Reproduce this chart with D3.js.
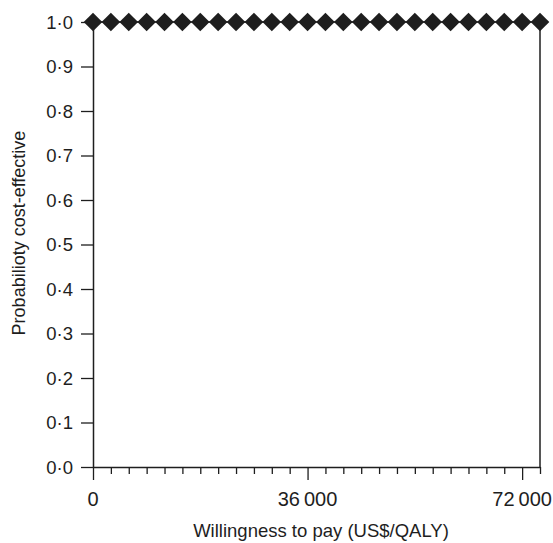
<!DOCTYPE html>
<html>
<head>
<meta charset="utf-8">
<script src="https://cdn.jsdelivr.net/npm/d3@7"></script>
<style>
  html, body { margin: 0; padding: 0; background: #fff; }
  svg { display: block; font-family: "Liberation Sans", Arial, Helvetica, sans-serif; }
</style>
</head>
<body>
<svg id="chart" width="553" height="543"></svg>
<script>
// Data
const wtp = [0, 3000, 6000, 9000, 12000, 15000, 18000, 21000, 24000, 27000, 30000, 33000, 36000,
             39000, 42000, 45000, 48000, 51000, 54000, 57000, 60000, 63000, 66000, 69000, 72000, 75000];
const probability = [1.0, 1.0, 1.0, 1.0, 1.0, 1.0, 1.0, 1.0, 1.0, 1.0, 1.0, 1.0, 1.0,
                     1.0, 1.0, 1.0, 1.0, 1.0, 1.0, 1.0, 1.0, 1.0, 1.0, 1.0, 1.0, 1.0];
const xTickValues = [0, 3000, 6000, 9000, 12000, 15000, 18000, 21000, 24000, 27000, 30000, 33000, 36000,
                     39000, 42000, 45000, 48000, 51000, 54000, 57000, 60000, 63000, 66000, 69000, 72000, 75000];
const xMajorTicks = [0, 36000, 72000];
const xMajorLabels = ["0", "36\u2009000", "72\u2009000"];
const yTickValues = [0, 0.1, 0.2, 0.3, 0.4, 0.5, 0.6, 0.7, 0.8, 0.9, 1.0];
const yTickLabels = ["0·0", "0·1", "0·2", "0·3", "0·4", "0·5", "0·6", "0·7", "0·8", "0·9", "1·0"];
const xTitle = "Willingness to pay (US$/QALY)";
const yTitle = "Probabilioty cost-effective";

(function () {
const svg = d3.select("#chart");
const mLeft = 93, mRight = 540, mTop = 22, mBottom = 467;
const ink = "#1e1e1e";

const x = d3.scaleLinear().domain([0, 75000]).range([mLeft, mRight]);
const y = d3.scaleLinear().domain([0, 1]).range([mBottom, mTop]);

// X axis
const xAxis = d3.axisBottom(x)
  .tickValues(xTickValues)
  .tickSize(7)
  .tickSizeOuter(0)
  .tickFormat("");
const gx = svg.append("g").attr("transform", `translate(0,${mBottom})`).call(xAxis);
gx.select(".domain").attr("stroke", ink).attr("stroke-width", 1.5);
gx.selectAll(".tick line").attr("stroke", ink).attr("stroke-width", 1.3)
  .attr("y2", d => xMajorTicks.includes(d) ? 13 : 7);

// X major labels
svg.append("g").selectAll("text").data(xMajorTicks).join("text")
  .attr("x", d => x(d))
  .attr("y", 506)
  .attr("text-anchor", "middle")
  .attr("font-size", 20)
  .attr("fill", ink)
  .text((d, i) => xMajorLabels[i]);

// Y axis
const yAxis = d3.axisLeft(y)
  .tickValues(yTickValues)
  .tickSize(12)
  .tickSizeOuter(0)
  .tickFormat((d, i) => yTickLabels[i]);
const gy = svg.append("g").attr("transform", `translate(${mLeft},0)`).call(yAxis);
gy.select(".domain").attr("stroke", ink).attr("stroke-width", 1.5);
gy.selectAll(".tick line").attr("stroke", ink).attr("stroke-width", 1.3);
gy.selectAll(".tick text")
  .attr("font-size", 18.5)
  .attr("font-family", "'Liberation Sans', Arial, sans-serif")
  .attr("fill", ink)
  .attr("x", -20)
  .attr("dy", "0.35em");

// Right frame line
svg.append("line")
  .attr("x1", x(75000)).attr("x2", x(75000))
  .attr("y1", y(1)).attr("y2", y(0))
  .attr("stroke", ink).attr("stroke-width", 1.5);

// Line + diamond markers
const line = d3.line().x((d, i) => x(wtp[i])).y(d => y(d));
svg.append("path").datum(probability)
  .attr("d", line).attr("fill", "none").attr("stroke", ink).attr("stroke-width", 1.5);

const r = 9.3;
svg.append("g").selectAll("path").data(probability).join("path")
  .attr("transform", (d, i) => `translate(${x(wtp[i])},${y(d)})`)
  .attr("d", `M0,${-r}L${r},0L0,${r}L${-r},0Z`)
  .attr("fill", ink);

// Titles
svg.append("text")
  .attr("x", 321)
  .attr("y", 537)
  .attr("text-anchor", "middle")
  .attr("font-size", 18.5)
  .attr("fill", ink)
  .text(xTitle);

svg.append("text")
  .attr("transform", `translate(25,233) rotate(-90)`)
  .attr("text-anchor", "middle")
  .attr("font-size", 18)
  .attr("fill", ink)
  .text(yTitle);
})();
</script>
</body>
</html>
